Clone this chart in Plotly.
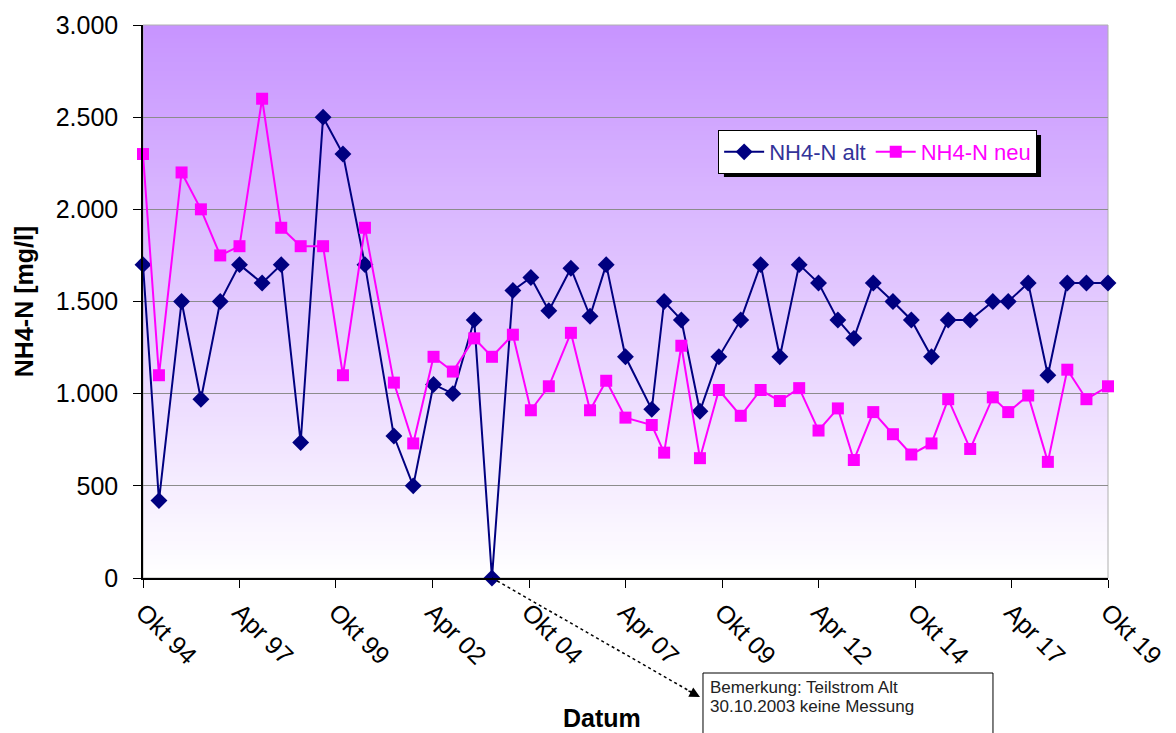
import plotly.graph_objects as go
import pandas as pd

# ---------------- data ----------------
dates = [
    "1994-10-15", "1995-03-15", "1995-10-15", "1996-04-15", "1996-10-15",
    "1997-04-15", "1997-11-15", "1998-05-15", "1998-11-15", "1999-06-15",
    "1999-12-20", "2000-07-15", "2001-04-15", "2001-10-15", "2002-04-25",
    "2002-10-25", "2003-05-15", "2003-10-30", "2004-05-15", "2004-11-01",
    "2005-04-20", "2005-11-15", "2006-05-15", "2006-10-15", "2007-04-15",
    "2007-12-20", "2008-04-15", "2008-09-25", "2009-03-20", "2009-09-15",
    "2010-04-10", "2010-10-15", "2011-04-15", "2011-10-15", "2012-04-15",
    "2012-10-15", "2013-03-15", "2013-09-15", "2014-03-20", "2014-09-10",
    "2015-03-20", "2015-08-25", "2016-03-20", "2016-10-20", "2017-03-15",
    "2017-09-20", "2018-03-25", "2018-09-25", "2019-03-25", "2019-10-15",
]
nh4_alt = [
    1700, 420, 1500, 970, 1500, 1700, 1600, 1700, 735, 2500,
    2300, 1700, 770, 500, 1050, 1000, 1400, 0, 1560, 1630,
    1450, 1680, 1420, 1700, 1200, 915, 1500, 1400, 905, 1200,
    1400, 1700, 1200, 1700, 1600, 1400, 1300, 1600, 1500, 1400,
    1200, 1400, 1400, 1500, 1500, 1600, 1100, 1600, 1600, 1600,
]
nh4_neu = [
    2300, 1100, 2200, 2000, 1750, 1800, 2600, 1900, 1800, 1800,
    1100, 1900, 1060, 730, 1200, 1120, 1300, 1200, 1320, 910,
    1040, 1330, 910, 1070, 870, 830, 680, 1260, 650, 1020,
    880, 1020, 960, 1030, 800, 920, 640, 900, 780, 670,
    730, 970, 700, 980, 900, 990, 630, 1130, 970, 1040,
]
tick_dates = [
    "1994-10-15", "1997-04-15", "1999-10-15", "2002-04-15", "2004-10-15",
    "2007-04-15", "2009-10-15", "2012-04-15", "2014-10-15", "2017-04-15",
    "2019-10-15",
]
tick_labels = [
    "Okt 94", "Apr 97", "Okt 99", "Apr 02", "Okt 04", "Apr 07",
    "Okt 09", "Apr 12", "Okt 14", "Apr 17", "Okt 19",
]
y_ticks = [0, 500, 1000, 1500, 2000, 2500, 3000]
x_range = ["1994-10-15", "2019-10-15"]
y_range = [0, 3000]
note_date = "2003-10-30"
note_lines = ["Bemerkung: Teilstrom Alt", "30.10.2003 keine Messung"]

FONT = "Liberation Sans, Arial, sans-serif"

fig = go.Figure()
fig.add_trace(go.Scatter(
    x=dates, y=nh4_alt, mode="lines+markers",
    name='<span style="color:#333399">NH4-N alt</span>',
    line=dict(color="#000080", width=2),
    marker=dict(symbol="diamond", size=13, color="#000080"),
    cliponaxis=False,
))
fig.add_trace(go.Scatter(
    x=dates, y=nh4_neu, mode="lines+markers",
    name='<span style="color:#FF00FF">NH4-N neu</span>',
    line=dict(color="#FF00FF", width=2),
    marker=dict(symbol="square", size=12, color="#FF00FF"),
    cliponaxis=False,
))

shapes = []
# vertical gradient background (white bottom -> purple top), overlapping bands
N = 120
top = (199, 148, 255)
bot = (255, 255, 255)
for i in range(N):
    t = (i + 0.5) / N
    c = tuple(round(bot[k] + (top[k] - bot[k]) * t) for k in range(3))
    shapes.append(dict(
        type="rect", xref="paper", yref="y", x0=0, x1=1,
        y0=y_range[1] * i / N, y1=y_range[1],
        fillcolor="rgb(%d,%d,%d)" % c, line=dict(width=0), layer="below",
    ))
# plot area border
shapes.append(dict(type="rect", xref="paper", yref="paper", x0=0, x1=1, y0=0, y1=1,
                   line=dict(color="#B0B0B0", width=1), layer="below"))
# legend shadow
shapes.append(dict(type="rect", xref="paper", yref="paper",
                   x0=0.602, x1=0.9306, y0=0.7251, y1=0.801,
                   fillcolor="black", line=dict(width=0), layer="above"))

# dotted pointer from missing measurement to remark box
t0 = pd.Timestamp(x_range[0]); t1 = pd.Timestamp(x_range[1])
px_note = (pd.Timestamp(note_date) - t0) / (t1 - t0)
head_x, head_y = 0.5772, -0.2152
shapes.append(dict(type="line", xref="paper", yref="paper",
                   x0=px_note, y0=0, x1=head_x, y1=head_y,
                   line=dict(color="black", width=1.5, dash="dot")))
# remark box
shapes.append(dict(type="rect", xref="paper", yref="paper",
                   x0=0.5803, x1=0.8808, y0=-0.1718, y1=-0.33,
                   fillcolor="white", line=dict(color="black", width=1)))

annotations = [
    dict(x=head_x, y=head_y, xref="paper", yref="paper", text="",
         showarrow=True, ax=-13, ay=-7, arrowhead=2, arrowsize=1.4,
         arrowwidth=1.5, arrowcolor="black", standoff=0),
    dict(x=0.5855, y=-0.1989, xref="paper", yref="paper", text=note_lines[0],
         showarrow=False, xanchor="left", yanchor="middle",
         font=dict(family=FONT, size=17, color="#222222")),
    dict(x=0.5855, y=-0.2315, xref="paper", yref="paper", text=note_lines[1],
         showarrow=False, xanchor="left", yanchor="middle",
         font=dict(family=FONT, size=17, color="#222222")),
    dict(x=0.4756, y=-0.253, xref="paper", yref="paper", text="Datum",
         showarrow=False, xanchor="center", yanchor="middle",
         font=dict(family=FONT, size=25, color="black", weight="bold")),
]

fig.update_layout(
    width=1176, height=733,
    margin=dict(l=143, r=68, t=25, b=155, autoexpand=False),
    paper_bgcolor="white", plot_bgcolor="white",
    separators=",.",
    font=dict(family=FONT, size=25, color="black"),
    shapes=shapes, annotations=annotations,
    showlegend=True,
    legend=dict(orientation="h", x=0.596, y=0.810, xanchor="left", yanchor="top",
                bgcolor="white", bordercolor="black", borderwidth=1,
                font=dict(family=FONT, size=22), itemwidth=40,
                tracegroupgap=0),
    xaxis=dict(
        type="date", range=x_range, tickvals=tick_dates, ticktext=tick_labels,
        tickangle=45, ticks="outside", ticklen=8, tickcolor="black",
        showline=True, linecolor="black", linewidth=1.5,
        showgrid=False, zeroline=False, automargin=False,
        tickfont=dict(family=FONT, size=25, color="black"),
    ),
    yaxis=dict(
        range=y_range, tickvals=y_ticks, tickformat=",",
        ticks="outside", ticklen=8, tickcolor="black", ticklabelstandoff=10,
        showline=True, linecolor="black", linewidth=1.5,
        showgrid=True, gridcolor="#8C8C8C", gridwidth=1, zeroline=False,
        automargin=False,
        tickfont=dict(family=FONT, size=25, color="black"),
        title=dict(text="NH4-N [mg/l]", standoff=15,
                   font=dict(family=FONT, size=25, color="black", weight="bold")),
    ),
)

fig.write_html("out.html", post_script="document.body.style.margin='0';",
               config={"displayModeBar": False})
